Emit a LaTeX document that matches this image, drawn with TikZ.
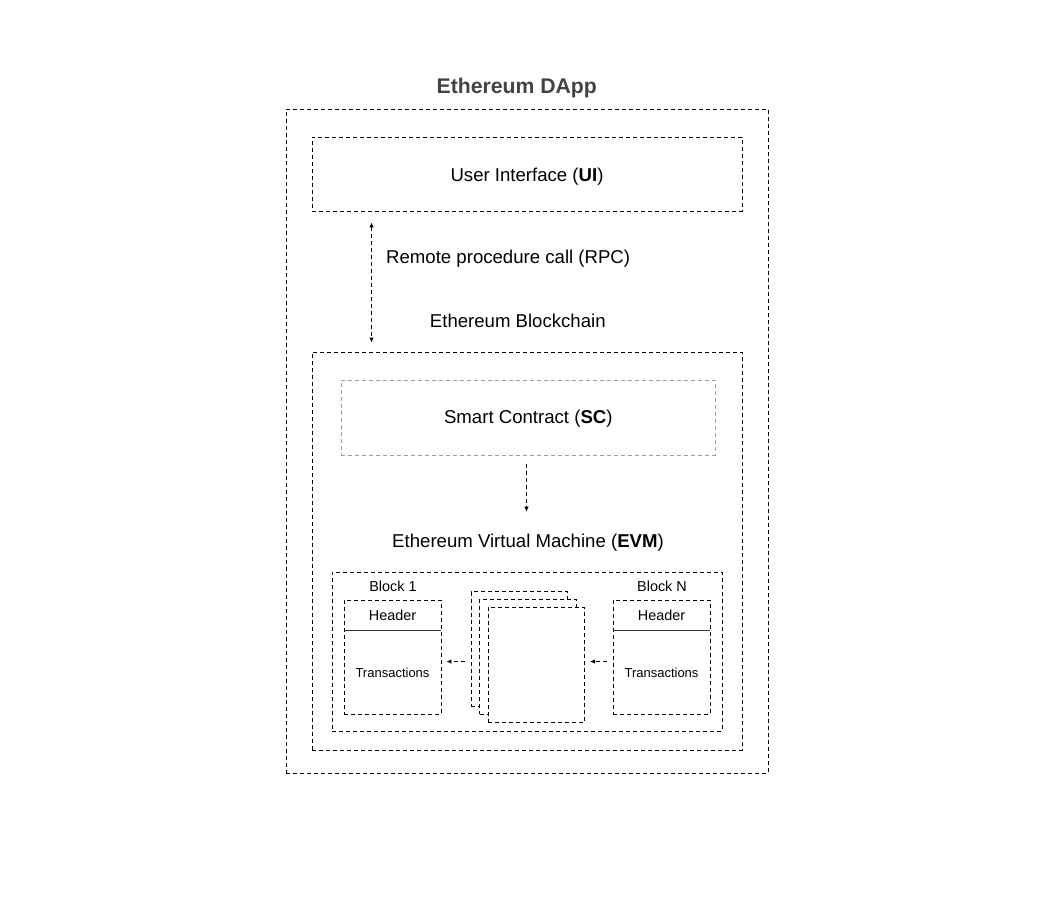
\documentclass[tikz,border=0pt]{standalone}
\usepackage{fontspec}
\setmainfont{Liberation Sans}
\usepackage{xcolor}
\usetikzlibrary{arrows.meta,calc}
\definecolor{titlegray}{HTML}{434343}
\newcommand{\fs}[1]{\fontsize{#1}{#1}\selectfont}

\begin{document}
\begin{tikzpicture}[x=1pt, y=-1pt, >={Latex[length=5pt,width=4.5pt]},
  box/.style={draw, dash pattern=on 4pt off 3pt, line width=0.9pt, inner sep=0pt},
  page/.style={box, fill=white, minimum width=96.5pt, minimum height=115pt},
  lbl/.style={inner sep=0pt, anchor=base},
  flow/.style={dash pattern=on 4pt off 3pt, line width=0.9pt, ->}]
\useasboundingbox (0,0) rectangle (1054,918);

% outer boxes
\node[box, minimum width=482pt, minimum height=664pt] (dapp) at (527,441) {};
\node[lbl, font=\fs{21.2}\bfseries, text=titlegray] (title) at (516.7,93.6) {Ethereum DApp};
\node[box, minimum width=430pt, minimum height=74pt] (ui) at (527,174) {};
\node[lbl, font=\fs{18.6}] (uilbl) at (527,181.7) {User Interface (\textbf{UI})};
\node[lbl, anchor=base west, font=\fs{18.6}] (rpc) at (386,263.4) {Remote procedure call (RPC)};
\node[lbl, font=\fs{18.6}] (chainlbl) at (517.8,327.7) {Ethereum Blockchain};
\node[box, minimum width=430pt, minimum height=398pt] (chain) at (527,551) {};

% smart contract and EVM
\node[box, draw=gray!75, minimum width=374pt, minimum height=75pt] (sc) at (528,417.5) {};
\node[lbl, font=\fs{18.6}] (sclbl) at (528.3,423.7) {Smart Contract (\textbf{SC})};
\node[lbl, font=\fs{18.6}] (evmlbl) at (528,547.4) {Ethereum Virtual Machine (\textbf{EVM})};
\node[box, minimum width=390pt, minimum height=159pt] (evm) at (527,651.5) {};

% blocks
\node[box, minimum width=97pt, minimum height=114pt] (blk1) at (392.5,657) {};
\node[box, minimum width=97pt, minimum height=114pt] (blkN) at (661.5,657) {};
\draw[line width=0.9pt, black!80] ($(blk1.north west)+(0,31)$) -- ($(blk1.north east)+(0,31)$);
\draw[line width=0.9pt, black!80] ($(blkN.north west)+(0,31)$) -- ($(blkN.north east)+(0,31)$);
\node[lbl, font=\fs{14.4}] (b1lbl) at (393,591) {Block 1};
\node[lbl, font=\fs{14.4}] (bNlbl) at (662,591) {Block N};
\node[lbl, font=\fs{14.4}] (hdr1) at (392.5,620.2) {Header};
\node[lbl, font=\fs{14.4}] (hdrN) at (661.5,620.2) {Header};
\node[lbl, font=\fs{13}] (tx1) at (392.5,677.7) {Transactions};
\node[lbl, font=\fs{13}] (txN) at (661.5,677.7) {Transactions};

% stack of blocks in between
\node[page] (page3) at (519.3,649.2) {};
\node[page] (page2) at (528,656.8) {};
\node[page] (page1) at (536.3,664.8) {};

% connectors
\draw[flow, <->] ($(ui.south west)+(60,11)$) -- ($(chain.north west)+(60,-9)$);
\draw[flow] ($(sc.south)+(-1.5,9)$) -- ($(evmlbl.north)+(-1.5,-22)$);
\draw[flow] ($(page3.west |- blk1.east)+(-6,4.5)$) -- ($(blk1.east)+(5,4.5)$);
\draw[flow] ($(blkN.west)+(-6,4.5)$) -- ($(page1.east |- blkN.west)+(5,4.5)$);

\end{tikzpicture}
\end{document}
